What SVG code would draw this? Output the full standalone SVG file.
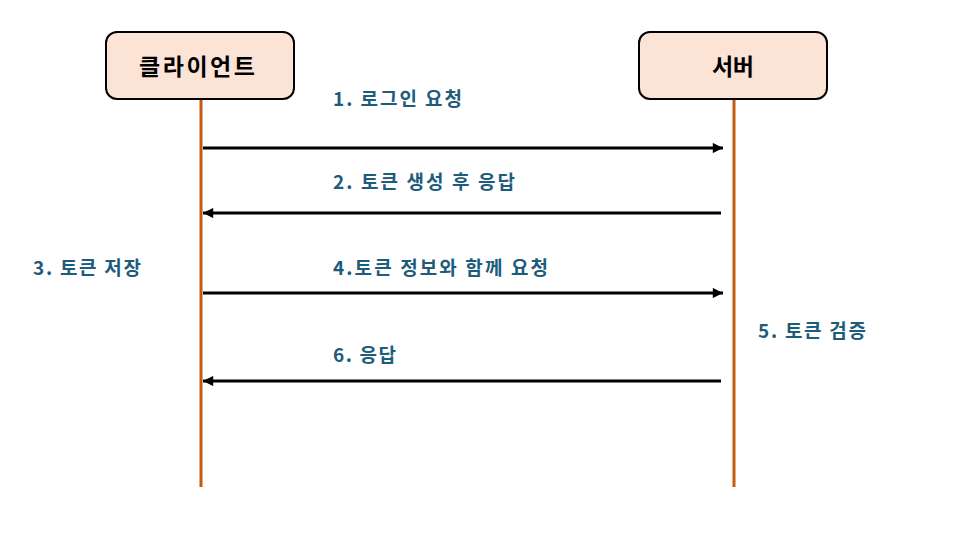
<svg xmlns="http://www.w3.org/2000/svg" width="979" height="543" viewBox="0 0 979 543">
<style>
.box{fill:#fbe3d6;stroke:#000;stroke-width:2}
.life{stroke:#c55a11;stroke-width:3;fill:none}
.msg{stroke:#000;stroke-width:3;fill:none}
.title{font-family:"Noto Sans CJK KR","Noto Sans",sans-serif;font-weight:bold;font-size:23px;fill:#000}
.lbl{font-family:"Noto Sans CJK KR","Noto Sans",sans-serif;font-weight:bold;font-size:19px;fill:#1e5c7c}
</style>
<defs>
<marker id="ah" viewBox="0 0 10 10" refX="10" refY="5" markerWidth="4" markerHeight="3.4" orient="auto" markerUnits="strokeWidth">
<path d="M0,0 L10,5 L0,10 z" fill="#000"/>
</marker>
</defs>
<rect width="979" height="543" fill="#fff"/>
<g id="lifelines">
<line class="life" x1="201" y1="99" x2="201" y2="487"/>
<line class="life" x1="734" y1="99" x2="734" y2="487"/>
</g>
<g id="client">
<rect class="box" x="106" y="32" width="188" height="67" rx="11"/>
<text class="title" x="139" y="75" textLength="116" lengthAdjust="spacing">클라이언트</text>
</g>
<g id="server">
<rect class="box" x="639" y="32" width="188" height="67" rx="11"/>
<text class="title" x="712" y="75" textLength="42" lengthAdjust="spacing">서버</text>
</g>
<g id="connectors">
<line class="msg" x1="203" y1="148" x2="723" y2="148" marker-end="url(#ah)"/>
<line class="msg" x1="721" y1="213" x2="203" y2="213" marker-end="url(#ah)"/>
<line class="msg" x1="203" y1="293" x2="723" y2="293" marker-end="url(#ah)"/>
<line class="msg" x1="721" y1="381" x2="203" y2="381" marker-end="url(#ah)"/>
</g>
<g id="labels">
<text class="lbl" x="333" y="106" textLength="129" lengthAdjust="spacing">1. 로그인 요청</text>
<text class="lbl" x="333" y="189" textLength="182" lengthAdjust="spacing">2. 토큰 생성 후 응답</text>
<text class="lbl" x="33" y="275" textLength="108" lengthAdjust="spacing">3. 토큰 저장</text>
<text class="lbl" x="333" y="275" textLength="215" lengthAdjust="spacing">4.토큰 정보와 함께 요청</text>
<text class="lbl" x="758" y="338" textLength="108" lengthAdjust="spacing">5. 토큰 검증</text>
<text class="lbl" x="333" y="362" textLength="63" lengthAdjust="spacing">6. 응답</text>
</g>
</svg>
